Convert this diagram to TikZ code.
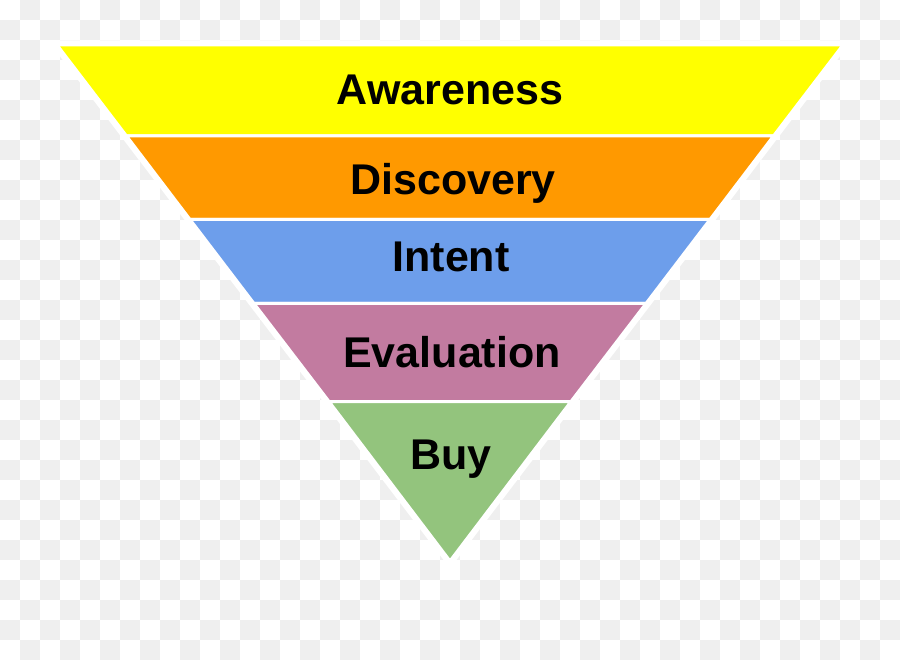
\documentclass[tikz,border=0pt]{standalone}
\usepackage{fontspec}
\setmainfont{Liberation Sans}
\definecolor{checker}{HTML}{EFEFEF}
\definecolor{awarecol}{HTML}{FFFF00}
\definecolor{discocol}{HTML}{FF9900}
\definecolor{intentcol}{HTML}{6D9EEB}
\definecolor{evalcol}{HTML}{C27BA0}
\definecolor{buycol}{HTML}{93C47D}
\begin{document}
\begin{tikzpicture}[x=1pt,y=-1pt,
    band/.style={fill=#1,draw=white,line width=3pt,line join=miter},
    stage/.style={anchor=base,inner sep=0pt,font=\fontsize{43}{43}\selectfont\bfseries}]
\useasboundingbox (0,0) rectangle (900,660);
% transparent-look background
\fill[white] (0,0) rectangle (900,660);
\foreach \i in {0,...,44}{
  \foreach \j in {0,...,32}{
    \pgfmathtruncatemacro\odd{mod(\i+\j,2)}
    \ifnum\odd=1 \fill[checker] (20*\i,20*\j) rectangle +(20,20); \fi
  }}
% halo round the funnel
\filldraw[white,line width=9pt,line join=miter] (57,45) -- (843,45) -- (450,561) -- cycle;
% bands, x = 57 + 0.7616*(y-45) on the left
\path[band=awarecol] (57,45) -- (843,45) -- (773.5,136) -- (126.5,136) -- cycle;
\path[band=discocol] (126.5,136) -- (773.5,136) -- (710,219.5) -- (190,219.5) -- cycle;
\path[band=intentcol] (190,219.5) -- (710,219.5) -- (646,303.5) -- (254,303.5) -- cycle;
\path[band=evalcol] (254,303.5) -- (646,303.5) -- (571,401.5) -- (329,401.5) -- cycle;
\path[band=buycol] (329,401.5) -- (571,401.5) -- (450,561) -- cycle;
\node[stage] (awareness) at (450,105) {Awareness};
\node[stage] (discovery) at (453,195) {Discovery};
\node[stage] (intent) at (451,272) {Intent};
\node[stage] (evaluation) at (452,367) {Evaluation};
\node[stage] (buy) at (451,469) {Buy};
\end{tikzpicture}
\end{document}
